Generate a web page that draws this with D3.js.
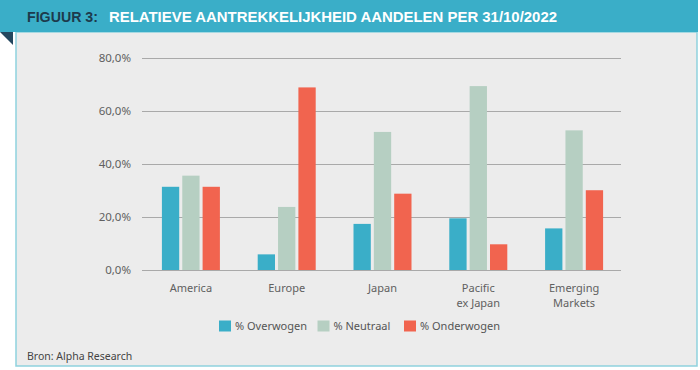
<!DOCTYPE html>
<html><head><meta charset="utf-8">
<script src="https://cdn.jsdelivr.net/npm/d3@7"></script>
<style>body{margin:0;background:#fff}svg{display:block}</style>
</head><body>
<script>
const categories = [["America"],["Europe"],["Japan"],["Pacific","ex Japan"],["Emerging","Markets"]];
const seriesNames = ["% Overwogen","% Neutraal","% Onderwogen"];
const overwogen   = [31.4, 5.9, 17.4, 19.5, 15.7];
const neutraal    = [35.6, 23.8, 52.1, 69.4, 52.7];
const onderwogen  = [31.4, 68.9, 28.8, 9.7, 30.1];
const yTicks = [0, 20, 40, 60, 80];
const colors = ["#3aaec8", "#b6cfc2", "#f1644f"];

const W = 700, H = 370;
const svg = d3.select("body").append("svg").attr("width", W).attr("height", H);

// frame
svg.append("rect").attr("x", 16).attr("y", 32).attr("width", 681).attr("height", 334)
  .attr("fill", "#ececec").attr("stroke", "#8fd2de").attr("stroke-width", 1.5);
svg.append("rect").attr("x", 0).attr("y", 0).attr("width", 698).attr("height", 32).attr("fill", "#3aaec8");
svg.append("path").attr("d", "M0,32 L13,32 L13,45 Z").attr("fill", "#24475e");

const titleFont = "'Liberation Sans Narrow','Liberation Sans',sans-serif";
svg.append("text").attr("x", 27).attr("y", 22)
  .attr("font-family", titleFont).attr("font-weight", "bold")
  .attr("font-size", 15.5).attr("fill", "#1d3a4c").text("FIGUUR 3:")
  .attr("textLength", 71).attr("lengthAdjust", "spacingAndGlyphs");
svg.append("text").attr("x", 109).attr("y", 22)
  .attr("font-family", titleFont).attr("font-weight", "bold")
  .attr("font-size", 15.5).attr("fill", "#ffffff").text("RELATIEVE AANTREKKELIJKHEID AANDELEN PER 31/10/2022")
  .attr("textLength", 448).attr("lengthAdjust", "spacingAndGlyphs");

const x0 = d3.scaleBand().domain(d3.range(categories.length)).range([143, 622]).paddingInner(0).paddingOuter(0);
const y = d3.scaleLinear().domain([0, 80]).range([270, 58]);
const groupW = 58;
const x1 = d3.scaleBand().domain(d3.range(3)).range([0, groupW]).paddingInner(0.15);

// grid
const g = svg.append("g");
g.selectAll("line.grid").data(yTicks).enter().append("line")
  .attr("x1", 142).attr("x2", 621).attr("y1", d => y(d) + 0.5).attr("y2", d => y(d) + 0.5)
  .attr("stroke", "#a9a9a9").attr("stroke-width", 1);

const yAxis = d3.axisLeft(y).tickValues(yTicks).tickSize(0).tickPadding(0)
  .tickFormat(d => d.toFixed(1).replace(".", ",") + "%");
const ya = svg.append("g").attr("transform", "translate(131,0)").call(yAxis);
ya.select(".domain").remove();
ya.selectAll("text").attr("font-family", "'Noto Sans',sans-serif").attr("font-size", 11.5).attr("fill", "#606060");

// bars
const series = [overwogen, neutraal, onderwogen];
series.forEach((vals, si) => {
  svg.append("g").selectAll("rect").data(vals).enter().append("rect")
    .attr("x", (d, i) => x0(i) + x0.bandwidth() / 2 - groupW / 2 + x1(si))
    .attr("width", x1.bandwidth())
    .attr("y", d => y(d))
    .attr("height", d => y(0) - y(d))
    .attr("fill", colors[si]);
});

// x labels
const xl = svg.append("g");
categories.forEach((lines, i) => {
  const t = xl.append("text").attr("x", x0(i) + x0.bandwidth() / 2).attr("y", 292)
    .attr("text-anchor", "middle").attr("font-family", "'Noto Sans',sans-serif").attr("font-size", 11).attr("fill", "#606060");
  lines.forEach((l, k) => t.append("tspan").attr("x", x0(i) + x0.bandwidth() / 2).attr("dy", k === 0 ? 0 : 15).text(l));
});

// legend
const legX = [219, 317.5, 404];
seriesNames.forEach((n, i) => {
  svg.append("rect").attr("x", legX[i]).attr("y", 320.5).attr("width", 12).attr("height", 11).attr("fill", colors[i]);
  svg.append("text").attr("x", legX[i] + 16).attr("y", 329.5).attr("font-family", "'Noto Sans',sans-serif")
    .attr("font-size", 11).attr("fill", "#555").text(n);
});

svg.append("text").attr("x", 27).attr("y", 360).attr("font-family", "'Noto Sans',sans-serif")
  .attr("font-size", 10.5).attr("fill", "#444").text("Bron: Alpha Research");
</script>
</body></html>
